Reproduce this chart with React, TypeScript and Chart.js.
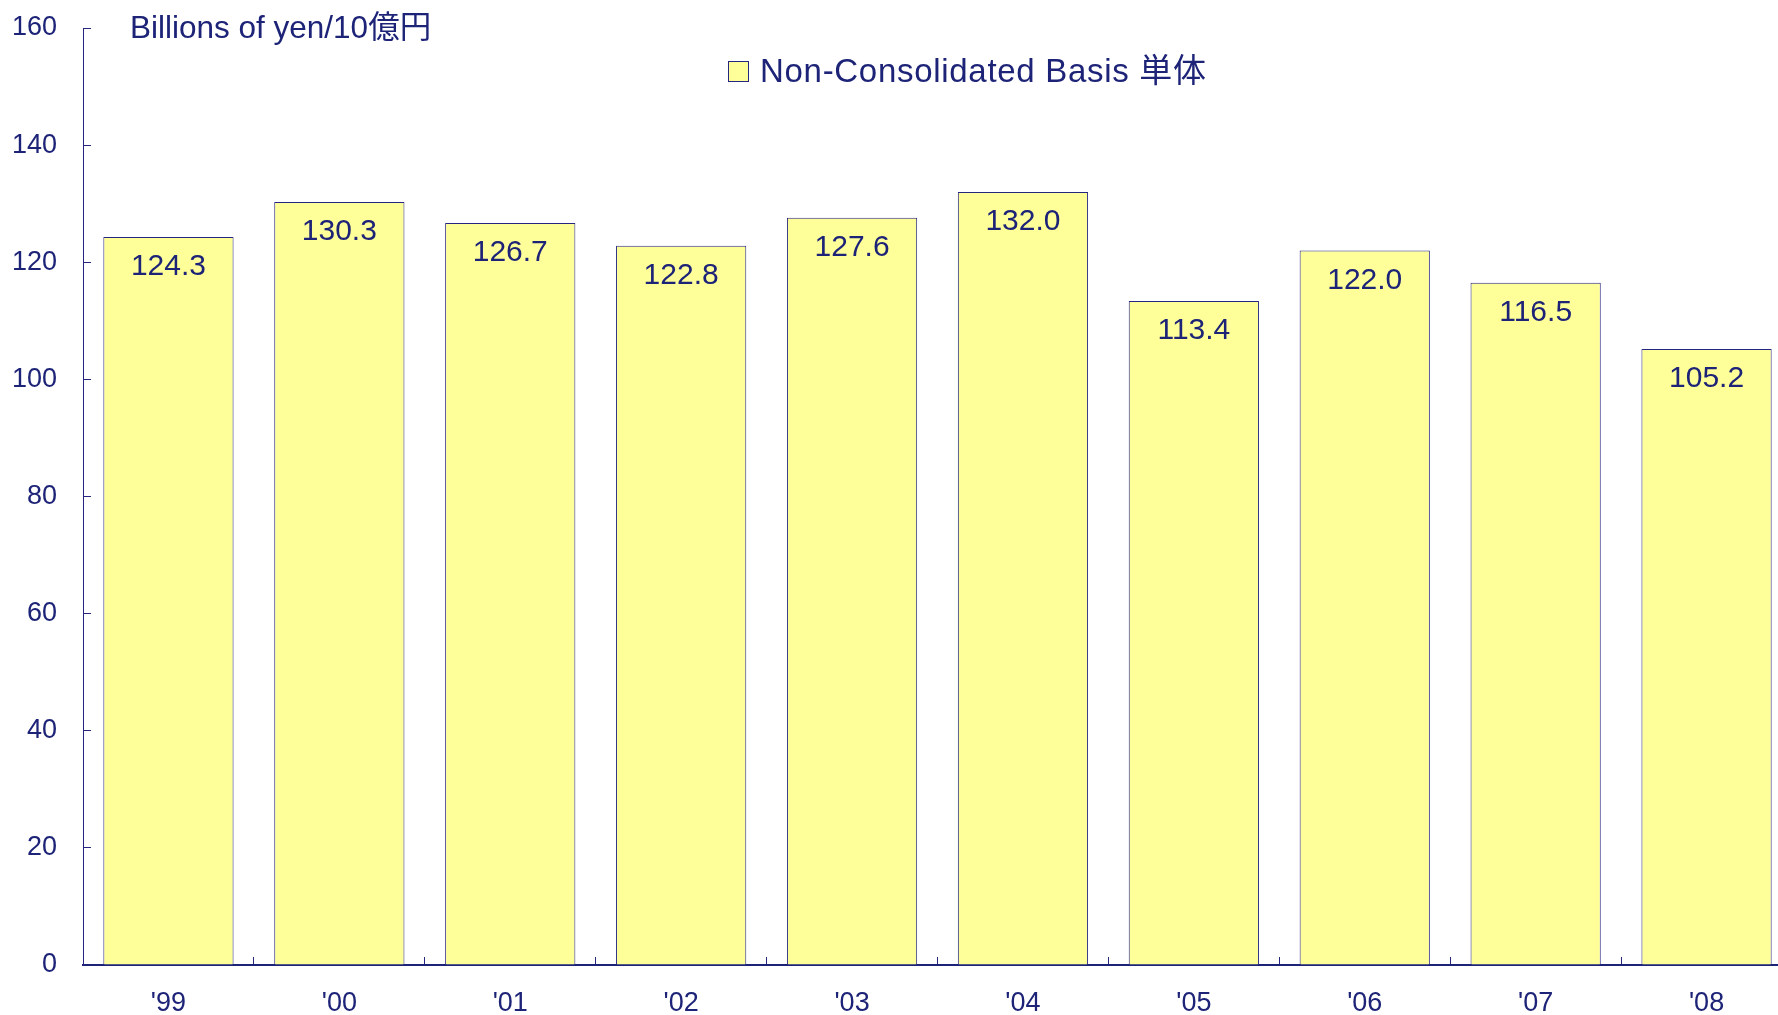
import React, { useEffect, useRef } from "react";
import { Chart, registerables } from "chart.js";

Chart.register(...registerables);

const categories = ["'99", "'00", "'01", "'02", "'03", "'04", "'05", "'06", "'07", "'08"];
const values = [124.3, 130.3, 126.7, 122.8, 127.6, 132.0, 113.4, 122.0, 116.5, 105.2];
const seriesLabel = "Non-Consolidated Basis 単体";
const unitTitle = "Billions of yen/10億円";
const yMin = 0;
const yMax = 160;
const yStep = 20;

const NAVY = "#1d2377";
const BORDER = "#262680";
const FILL = "#ffff99";
const FONT = "'Liberation Sans', Arial, 'Noto Sans CJK JP', sans-serif";

const overlayPlugin = {
  id: "overlay",
  afterDatasetsDraw(chart: any) {
    const ctx = chart.ctx;
    const meta = chart.getDatasetMeta(0);
    ctx.save();
    ctx.fillStyle = NAVY;
    ctx.font = `30px ${FONT}`;
    ctx.textAlign = "center";
    ctx.textBaseline = "middle";
    meta.data.forEach((bar: any, i: number) => {
      ctx.fillText(values[i].toFixed(1), bar.x, bar.y + 30);
    });
    ctx.restore();
  },
  afterDraw(chart: any) {
    const ctx = chart.ctx;
    ctx.save();
    // unit title
    ctx.fillStyle = NAVY;
    ctx.font = `31.5px ${FONT}`;
    ctx.textAlign = "left";
    ctx.textBaseline = "middle";
    ctx.fillText(unitTitle, 130, 29);
    // legend
    ctx.fillStyle = FILL;
    ctx.fillRect(728.5, 61.5, 20, 20);
    ctx.strokeStyle = BORDER;
    ctx.lineWidth = 1;
    ctx.strokeRect(728.5, 61.5, 20, 20);
    ctx.fillStyle = NAVY;
    ctx.font = `33px ${FONT}`;
    try {
      (ctx as any).letterSpacing = "0.7px";
    } catch (e) {}
    ctx.fillText(chart.data.datasets[0].label, 760, 73);
    ctx.restore();
  },
};

export default function App() {
  const ref = useRef<HTMLCanvasElement | null>(null);
  useEffect(() => {
    document.body.style.margin = "0";
    document.body.style.overflow = "hidden";
    const canvas = ref.current!;
    const chart = new Chart(canvas, {
      type: "bar",
      data: {
        labels: categories,
        datasets: [
          {
            label: seriesLabel,
            data: values,
            backgroundColor: FILL,
            borderColor: BORDER,
            borderWidth: 1,
            barPercentage: 0.762,
            categoryPercentage: 1,
          },
        ],
      },
      options: {
        animation: false,
        responsive: false,
        devicePixelRatio: 1,
        layout: { padding: { top: 28, right: 8, left: 0, bottom: 0 } },
        plugins: {
          legend: { display: false },
          tooltip: { enabled: false },
        },
        scales: {
          x: {
            grid: {
              drawOnChartArea: false,
              drawTicks: true,
              tickLength: -8,
              color: BORDER,
              lineWidth: 1,
            },
            border: { color: NAVY, width: 2 },
            ticks: {
              color: NAVY,
              font: { family: FONT, size: 27 },
              padding: 30,
              maxRotation: 0,
            },
            afterFit(scale: any) {
              scale.height = 50;
              scale.paddingLeft = 0;
              scale.paddingRight = 0;
            },
          },
          y: {
            min: yMin,
            max: yMax,
            grid: {
              drawOnChartArea: false,
              drawTicks: true,
              tickLength: -8,
              color: BORDER,
              lineWidth: 1,
            },
            border: { color: BORDER, width: 1 },
            ticks: {
              stepSize: yStep,
              color: NAVY,
              font: { family: FONT, size: 27 },
              padding: 34,
            },
            afterFit(scale: any) {
              scale.width = 83;
              scale.paddingTop = 0;
              scale.paddingBottom = 0;
            },
          },
        },
      },
      plugins: [overlayPlugin],
    });
    return () => chart.destroy();
  }, []);
  return (
    <div
      style={{
        position: "absolute",
        left: 0,
        top: 0,
        width: 1778,
        height: 1015,
        overflow: "hidden",
        background: "#fff",
      }}
    >
      <canvas ref={ref} width={1800} height={1015} style={{ width: 1800, height: 1015, display: "block" }} />
    </div>
  );
}
